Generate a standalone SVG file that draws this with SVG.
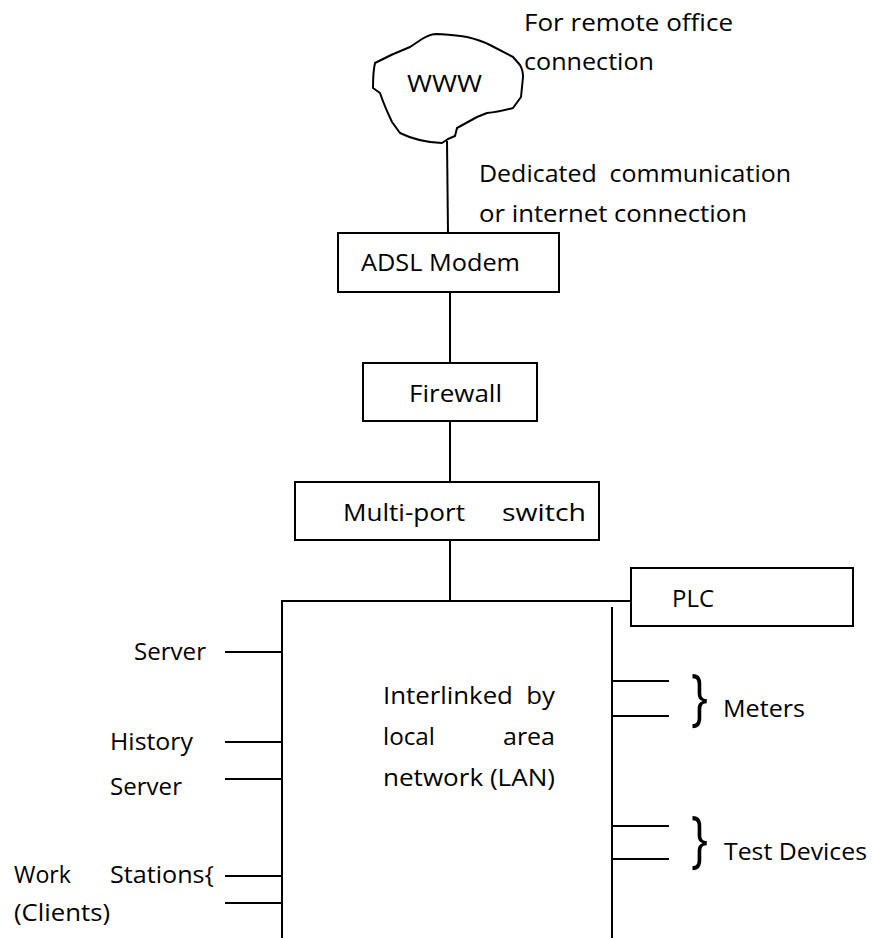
<svg xmlns="http://www.w3.org/2000/svg" width="872" height="938" viewBox="0 0 872 938">
<style>
text{font-family:"Open Sans","Noto Sans","Liberation Sans",sans-serif;font-size:23px;fill:#000}
.box{fill:#fff;stroke:#000;stroke-width:2}
.ln{stroke:#000;stroke-width:2;fill:none}
.br{font-size:62px}
</style>
<rect width="872" height="938" fill="#fff"/>
<g id="connectors">
<line class="ln" x1="447" y1="141" x2="448" y2="233"/>
<line class="ln" x1="450" y1="292" x2="450" y2="363"/>
<line class="ln" x1="450" y1="421" x2="450" y2="482"/>
<line class="ln" x1="450" y1="540" x2="450" y2="601"/>
<polyline class="ln" points="282,938 282,601 631,601"/>
<line class="ln" x1="612" y1="607" x2="612" y2="938"/>
<line class="ln" x1="225" y1="652" x2="282" y2="652"/>
<line class="ln" x1="225" y1="742" x2="282" y2="742"/>
<line class="ln" x1="225" y1="779" x2="282" y2="779"/>
<line class="ln" x1="225" y1="876" x2="282" y2="876"/>
<line class="ln" x1="225" y1="903" x2="282" y2="903"/>
<line class="ln" x1="612" y1="681" x2="669" y2="681"/>
<line class="ln" x1="612" y1="716" x2="669" y2="716"/>
<line class="ln" x1="612" y1="826" x2="669" y2="826"/>
<line class="ln" x1="612" y1="859" x2="669" y2="859"/>
</g>
<g id="www">
<path class="ln" stroke-linejoin="round" d="M375,63 Q392,54 410,47 L422,39 Q430,34 437,34 Q455,35 467,37 Q480,40 490,45 L513,57 L520,65 Q523,70 523,77 L521,97 L513,108 Q498,112 487,113 L477,117 L457,128 L455,136 L448,139 L442,143 Q418,142 400,133 L392,122 Q384,105 380,93 L373,88 Q373,72 375,63 Z"/>
<text x="407" y="92" textLength="75" lengthAdjust="spacingAndGlyphs">WWW</text>
</g>
<g id="label-remote">
<text x="524" y="31" textLength="209" lengthAdjust="spacingAndGlyphs">For remote office</text>
<text x="524" y="70" textLength="130" lengthAdjust="spacingAndGlyphs">connection</text>
</g>
<g id="label-dedicated">
<text x="479" y="182" textLength="312" lengthAdjust="spacingAndGlyphs" xml:space="preserve">Dedicated  communication</text>
<text x="479" y="222" textLength="268" lengthAdjust="spacingAndGlyphs">or internet connection</text>
</g>
<g id="adsl">
<rect class="box" x="338" y="233" width="221" height="59"/>
<text x="361" y="271" textLength="159" lengthAdjust="spacingAndGlyphs">ADSL Modem</text>
</g>
<g id="firewall">
<rect class="box" x="363" y="363" width="174" height="58"/>
<text x="409" y="402" textLength="93" lengthAdjust="spacingAndGlyphs">Firewall</text>
</g>
<g id="switch">
<rect class="box" x="295" y="482" width="304" height="58"/>
<text x="343" y="521" textLength="122" lengthAdjust="spacingAndGlyphs">Multi-port</text>
<text x="502" y="521" textLength="84" lengthAdjust="spacingAndGlyphs">switch</text>
</g>
<g id="plc">
<rect class="box" x="631" y="568" width="222" height="58"/>
<text x="672" y="607" textLength="42" lengthAdjust="spacingAndGlyphs">PLC</text>
</g>
<g id="lan">
<text x="383" y="704" textLength="172" lengthAdjust="spacingAndGlyphs" xml:space="preserve">Interlinked  by</text>
<text x="383" y="745" textLength="52" lengthAdjust="spacingAndGlyphs">local</text>
<text x="503" y="745" textLength="52" lengthAdjust="spacingAndGlyphs">area</text>
<text x="383" y="786" textLength="172" lengthAdjust="spacingAndGlyphs">network (LAN)</text>
</g>
<g id="server">
<text x="134" y="660" textLength="72" lengthAdjust="spacingAndGlyphs">Server</text>
</g>
<g id="history-server">
<text x="110" y="750" textLength="83" lengthAdjust="spacingAndGlyphs">History</text>
<text x="110" y="795" textLength="72" lengthAdjust="spacingAndGlyphs">Server</text>
</g>
<g id="workstations">
<text x="14" y="883" textLength="57" lengthAdjust="spacingAndGlyphs">Work</text>
<text x="110" y="883" textLength="104" lengthAdjust="spacingAndGlyphs">Stations{</text>
<text x="14" y="921" textLength="96" lengthAdjust="spacingAndGlyphs">(Clients)</text>
</g>
<g id="meters">
<text class="br" x="691" y="719" textLength="17" lengthAdjust="spacingAndGlyphs">}</text>
<text x="723" y="717" textLength="82" lengthAdjust="spacingAndGlyphs">Meters</text>
</g>
<g id="test-devices">
<text class="br" x="691" y="861" textLength="17" lengthAdjust="spacingAndGlyphs">}</text>
<text x="724" y="860" textLength="143" lengthAdjust="spacingAndGlyphs">Test Devices</text>
</g>
</svg>
